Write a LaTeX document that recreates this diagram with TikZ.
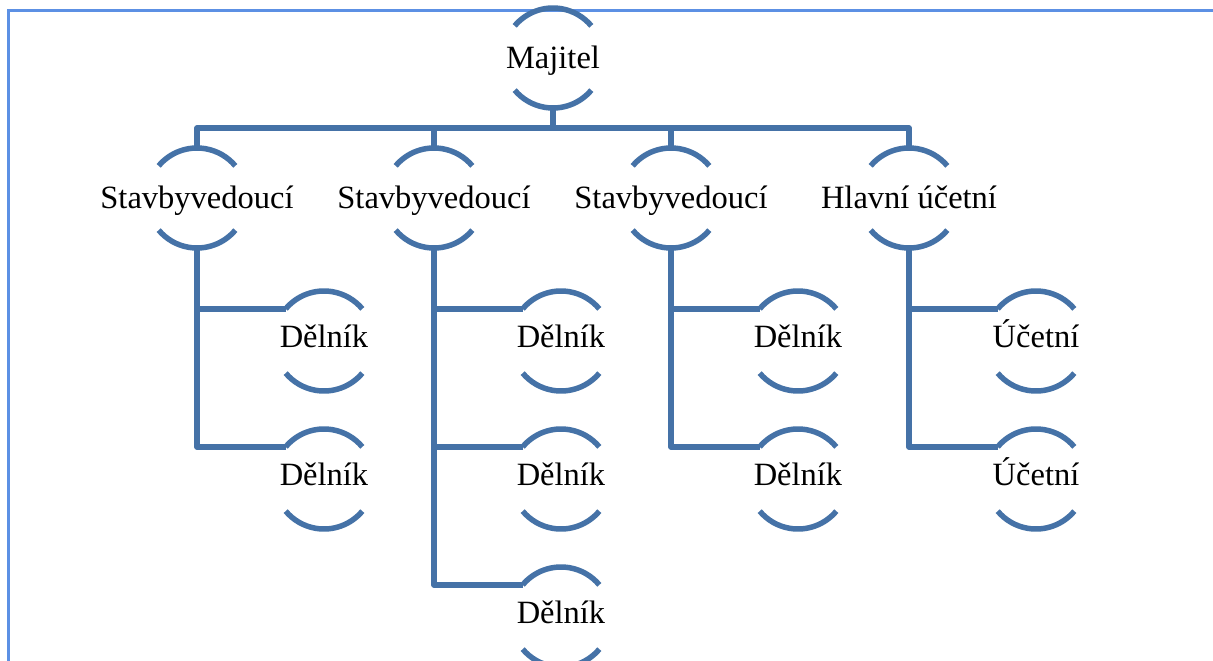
\documentclass[tikz,border=0pt]{standalone}
\usepackage{fontspec}
\setmainfont{Liberation Serif}
\usetikzlibrary{calc}
\definecolor{linkblue}{RGB}{69,114,167}
\definecolor{framebl}{RGB}{92,144,228}
\tikzset{
  lbl/.style={inner sep=0pt, outer sep=0pt, text height=21pt, text depth=0pt,
    font=\fontsize{32.5}{37}\selectfont},
  clbl/.style={lbl, text depth=9pt},
  arcln/.style={draw=linkblue, line width=5.5pt},
  conn/.style={draw=linkblue, line width=5.5pt, line join=round},
}
\newcommand\onode[4]{%
  \node[#3] (#1) at (#2) {#4};
  \draw[arcln] ([shift={(220:50)}]#1.center) arc[start angle=220,end angle=320,radius=50];
  \draw[arcln] ([shift={(40:50)}]#1.center) arc[start angle=40,end angle=140,radius=50];
  \coordinate (#1-t) at ([shift={(0,-50)}]#1.center);
  \coordinate (#1-b) at ([shift={(0,50)}]#1.center);
  \coordinate (#1-l) at ([shift={(220:50)}]#1.center);
}
\begin{document}
\begin{tikzpicture}[x=1pt,y=-1pt]
\fill[white] (0,0) rectangle (1213,661);
\useasboundingbox (0,0) rectangle (1213,661);
% frame
\coordinate (fbl) at (8.5,661);
\coordinate (ftl) at (8.5,10.5);
\coordinate (ftr) at (1213,10.5);
\draw[framebl, line width=3pt] (fbl) -- (ftl) -- (ftr);

\onode{maj}{553,58}{lbl}{Majitel}
\onode{s1}{197,198}{lbl}{Stavbyvedoucí}
\onode{s2}{434,198}{lbl}{Stavbyvedoucí}
\onode{s3}{671,198}{lbl}{Stavbyvedoucí}
\onode{s4}{909,198}{lbl}{Hlavní účetní}

\onode{d11}{324,341}{clbl}{Dělník}
\onode{d12}{324,479}{clbl}{Dělník}
\onode{d21}{561,341}{clbl}{Dělník}
\onode{d22}{561,479}{clbl}{Dělník}
\onode{d23}{561,617}{clbl}{Dělník}
\onode{d31}{798,341}{clbl}{Dělník}
\onode{d32}{798,479}{clbl}{Dělník}
\onode{u41}{1036,341}{clbl}{Účetní}
\onode{u42}{1036,479}{clbl}{Účetní}

% top bus
\coordinate (bus) at (553,128);
\draw[conn] (maj-b) -- (bus);
\draw[conn] (s1-t) |- (bus) -| (s4-t);
\draw[conn] (s2-t) -- (s2-t |- bus);
\draw[conn] (s3-t) -- (s3-t |- bus);

% children
\draw[conn] (s1-b) |- (d12-l);
\draw[conn] (s1-b |- d11-l) -- (d11-l);
\draw[conn] (s2-b) |- (d23-l);
\draw[conn] (s2-b |- d21-l) -- (d21-l);
\draw[conn] (s2-b |- d22-l) -- (d22-l);
\draw[conn] (s3-b) |- (d32-l);
\draw[conn] (s3-b |- d31-l) -- (d31-l);
\draw[conn] (s4-b) |- (u42-l);
\draw[conn] (s4-b |- u41-l) -- (u41-l);
\end{tikzpicture}
\end{document}
